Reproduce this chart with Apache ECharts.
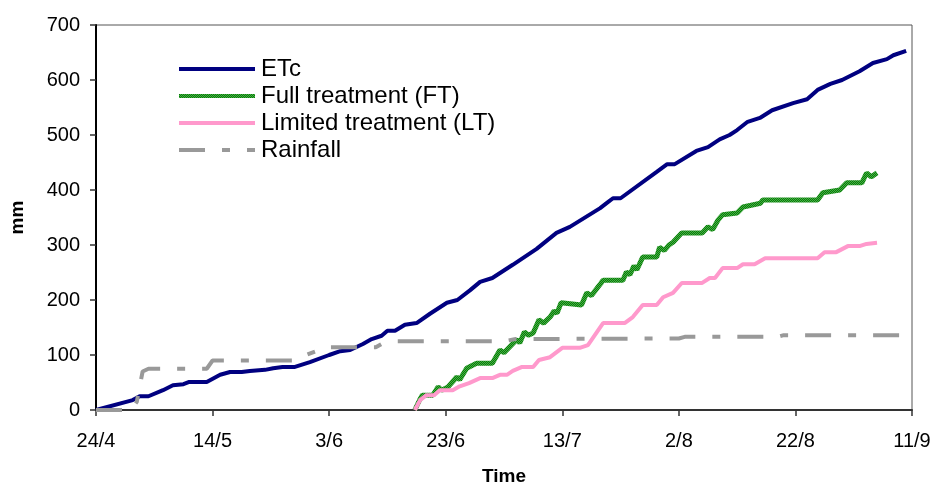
<!DOCTYPE html>
<html>
<head>
<meta charset="utf-8">
<script src="https://cdn.jsdelivr.net/npm/echarts@6/dist/echarts.min.js"></script>
<style>
  html, body { margin: 0; padding: 0; background: #fff; }
  #main { width: 936px; height: 484px; }
</style>
</head>
<body>
<div id="main"></div>
<script>
// day 0 = 24/4
let tickLabels = ['24/4', '14/5', '3/6', '23/6', '13/7', '2/8', '22/8', '11/9'];
let seriesNames = ['ETc', 'Full treatment (FT)', 'Limited treatment (LT)', 'Rainfall'];

let etcData = [[0, 0], [6.3, 18], [7.5, 25], [9, 25], [11.5, 36], [13.2, 45], [15, 47], [16, 51], [19, 51],
    [21.3, 64], [23, 69], [25, 69], [26.4, 71], [29, 73], [30.4, 76], [32, 78], [34, 78], [36.7, 87],
    [40, 100], [41.9, 107], [43.6, 109], [45.8, 120], [47.3, 129], [49, 135], [50, 144], [51.3, 144],
    [53, 155], [55, 158], [57.3, 175], [60.2, 195], [62, 200], [64.2, 218], [65.9, 233], [68, 240],
    [71.5, 264], [75.6, 293], [79, 322], [81.3, 333], [86.5, 367], [87.6, 376], [88.7, 385], [90, 385],
    [96.2, 433], [98, 447], [99.3, 447], [103, 471], [105, 478], [107, 492], [108.7, 500], [110, 509],
    [111.8, 524], [113.9, 531], [116, 545], [119.6, 558], [122, 565], [123.8, 582], [126, 593],
    [128, 600], [131, 616], [133.3, 631], [135.7, 638], [136.8, 645], [139, 653]];

let ftData = [[54.7, 0], [55.6, 20], [56, 27], [57.8, 27], [58.7, 42], [59.3, 36], [60.4, 42],
    [61.9, 60], [62.4, 55], [63.6, 76], [65.3, 85], [68, 85], [69.3, 109], [70, 104], [71, 115],
    [72.2, 128], [72.7, 122], [73.5, 142], [74.2, 136], [75, 140], [76, 164], [76.8, 158], [77.9, 169],
    [78.6, 180], [79.1, 176], [79.8, 195], [83.3, 191], [84.2, 213], [85, 208], [86, 222], [86.6, 230],
    [87, 236], [90.4, 236], [91, 251], [91.6, 246], [92.3, 262], [92.8, 255], [93.8, 278], [96.2, 278],
    [96.7, 296], [97.5, 290], [98.3, 300], [99, 305], [100.5, 322], [104, 322],
    [105, 333], [105.8, 328], [106.7, 345], [107.5, 355], [110, 358], [111, 369], [114, 376], [114.4, 382],
    [123.8, 382], [124.7, 395], [127.6, 400], [128.8, 413], [131.4, 413], [132.2, 431], [133, 424],
    [134, 431]];

let ltData = [[54.7, 0], [55.6, 18], [56.7, 27], [58, 27], [59, 36], [61.2, 36], [62.4, 43], [64, 49],
    [65.9, 58], [68, 58], [69.3, 64], [70.5, 64], [71.5, 71], [73, 78], [75, 78], [76, 91], [77.9, 96],
    [80, 113], [83, 113], [84.4, 118], [87, 158], [90.7, 158], [92.1, 169], [93.8, 191], [96.2, 191],
    [97.3, 205], [99, 213], [100.5, 231], [104, 231], [105.3, 240], [106.2, 240], [107.5, 258],
    [110, 258], [111, 265], [113, 265], [114.8, 276], [123.8, 276], [125, 287], [127, 287],
    [129, 298], [131, 298], [132.2, 302], [134, 304]];

let rainData = [[0, 0], [6, 0], [7, 15], [8, 70], [9, 75], [19, 75], [20, 90], [34, 90], [36, 100],
    [38, 108], [39, 114], [48, 114], [49, 120], [51, 125], [70, 125], [72, 129], [100, 130],
    [101, 133], [117, 133], [118, 136], [139, 136]];

let fontName = '"Liberation Sans", Arial, sans-serif';

// checkered green texture like the original line
function greenPattern() {
    let c = document.createElement('canvas');
    c.width = 2;
    c.height = 2;
    let ctx = c.getContext('2d');
    ctx.fillStyle = '#0a7a0a';
    ctx.fillRect(0, 0, 2, 2);
    ctx.fillStyle = '#45b045';
    ctx.fillRect(0, 0, 1, 1);
    ctx.fillRect(1, 1, 1, 1);
    return { image: c, repeat: 'repeat' };
}

function makeChart() {
    let myChart = echarts.init(document.getElementById('main'));
    let ftColor = greenPattern();

    let option = {
        animation: false,
        textStyle: { fontFamily: fontName },
        grid: {
            left: 96, right: 24, top: 25, bottom: 74,
            outerBoundsMode: 'none',
            show: true, borderColor: '#555', borderWidth: 1
        },
        legend: {
            orient: 'vertical',
            left: 177,
            top: 57,
            padding: 0,
            itemWidth: 76,
            itemHeight: 14,
            itemGap: 3,
            itemStyle: { opacity: 0 },
            lineStyle: { width: 4 },
            textStyle: { fontSize: 24, color: '#000', fontFamily: fontName, padding: [0, 0, 0, 1] },
            data: seriesNames
        },
        xAxis: {
            type: 'value',
            min: 0,
            max: 140,
            interval: 20,
            name: 'Time',
            nameLocation: 'middle',
            nameGap: 57,
            nameTextStyle: { fontSize: 19, fontWeight: 'bold', color: '#000' },
            axisLine: { lineStyle: { color: '#333', width: 2 } },
            axisTick: { lineStyle: { color: '#333', width: 1.5 }, length: 6 },
            axisLabel: {
                fontSize: 20, color: '#000', margin: 21,
                formatter: function (v) { return tickLabels[Math.round(v / 20)]; }
            },
            splitLine: { show: false }
        },
        yAxis: {
            type: 'value',
            min: 0,
            max: 700,
            interval: 100,
            name: 'mm',
            nameLocation: 'middle',
            nameGap: 69,
            nameTextStyle: { fontSize: 19, fontWeight: 'bold', color: '#000' },
            axisLine: { show: true, lineStyle: { color: '#000', width: 2 } },
            axisTick: { show: true, lineStyle: { color: '#333', width: 1.5 }, length: 6 },
            axisLabel: { fontSize: 20, color: '#000', margin: 16 },
            splitLine: { show: false }
        },
        series: [
            {
                name: seriesNames[0], type: 'line', data: etcData, symbol: 'none',
                lineStyle: { color: '#000080', width: 4 }, itemStyle: { color: '#000080' }
            },
            {
                name: seriesNames[1], type: 'line', data: ftData, symbol: 'none',
                lineStyle: { color: ftColor, width: 5 }, itemStyle: { color: ftColor }
            },
            {
                name: seriesNames[2], type: 'line', data: ltData, symbol: 'none',
                lineStyle: { color: '#ff99cc', width: 4 }, itemStyle: { color: '#ff99cc' }
            },
            {
                name: seriesNames[3], type: 'line', data: rainData, symbol: 'none',
                lineStyle: { color: '#999999', width: 4, type: [26, 17, 8, 17] },
                itemStyle: { color: '#999999' }
            }
        ]
    };

    myChart.setOption(option);
}

makeChart();
</script>
</body>
</html>
